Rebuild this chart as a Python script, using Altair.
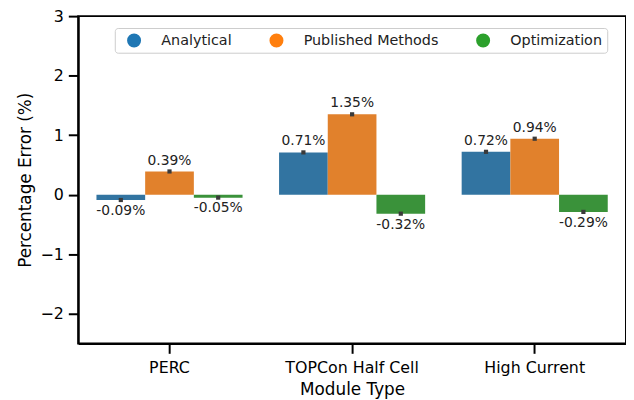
import altair as alt
import pandas as pd

module_types = ["PERC", "TOPCon Half Cell", "High Current"]
methods = ["Analytical", "Published Methods", "Optimization"]
analytical = [-0.09, 0.71, 0.72]
published = [0.39, 1.35, 0.94]
optimization = [-0.05, -0.32, -0.29]

bar_colors = ["#3274a1", "#e1812c", "#3a923a"]
legend_colors = ["#1f77b4", "#ff7f0e", "#2ca02c"]
y_ticks = [-2, -1, 0, 1, 2, 3]

rows = []
for name, vals in zip(methods, [analytical, published, optimization]):
    for m, v in zip(module_types, vals):
        rows.append({"Module Type": m, "Method": name, "Error": v})
df = pd.DataFrame(rows)

FONT = "DejaVu Sans"

base = alt.Chart(df).transform_calculate(
    lbl="replace(format(datum.Error, '.2f'), '\u2212', '-') + '%'"
)

x_enc = alt.X(
    "Module Type:N",
    sort=module_types,
    scale=alt.Scale(paddingInner=0.2, paddingOuter=0.1),
    axis=alt.Axis(
        title="Module Type", labelAngle=0, labelFontSize=16, titleFontSize=17,
        labelFont=FONT, titleFont=FONT, titleFontWeight="normal",
        labelColor="#000", titleColor="#000", domainColor="#000", domainWidth=2,
        tickColor="#000", tickWidth=2, tickSize=10, labelPadding=6, titlePadding=7,
        grid=False,
    ),
)
xoff = alt.XOffset("Method:N", sort=methods, scale=alt.Scale(paddingInner=0, paddingOuter=0))
y_enc = alt.Y(
    "Error:Q",
    scale=alt.Scale(domain=[-2.5, 3], nice=False, zero=False),
    axis=alt.Axis(
        title="Percentage Error (%)", values=y_ticks, format="d",
        labelExpr="replace(datum.label, '-', '\u2212')",
        labelFontSize=16, titleFontSize=17, labelFont=FONT, titleFont=FONT,
        titleFontWeight="normal", labelColor="#000", titleColor="#000",
        domainColor="#000", domainWidth=2, tickColor="#000", tickWidth=2,
        tickSize=10, labelPadding=5, titlePadding=6, grid=False,
    ),
)

bars = base.mark_bar().encode(
    x=x_enc, xOffset=xoff, y=y_enc,
    color=alt.Color("Method:N", sort=methods,
                    scale=alt.Scale(domain=methods, range=bar_colors), legend=None),
)

legend_pts = base.mark_point(filled=True, opacity=0).encode(
    x=x_enc, xOffset=xoff, y=y_enc,
    fill=alt.Fill(
        "Method:N", sort=methods,
        scale=alt.Scale(domain=methods, range=legend_colors),
        legend=alt.Legend(
            orient="none", legendX=37, legendY=12, direction="horizontal",
            title=None, symbolType="circle", symbolSize=200, symbolStrokeWidth=0,
            symbolOpacity=1, symbolOffset=7, labelFontSize=14.5, labelFont=FONT,
            labelColor="#222", labelOffset=20, columnPadding=30, padding=5,
            fillColor="rgba(255,255,255,0.8)", strokeColor="#cccccc", cornerRadius=3,
        ),
    ),
)

err = base.mark_square(size=18, color="#3a3a3a", opacity=1).encode(
    x=x_enc, xOffset=xoff, y=y_enc
)

pos_text = base.transform_filter("datum.Error >= 0").mark_text(
    baseline="bottom", dy=-4, fontSize=14, font=FONT, color="#222"
).encode(x=x_enc, xOffset=xoff, y=y_enc, text="lbl:N")

neg_text = base.transform_filter("datum.Error < 0").mark_text(
    baseline="top", dy=4, fontSize=14, font=FONT, color="#222"
).encode(x=x_enc, xOffset=xoff, y=y_enc, text="lbl:N")

chart = alt.layer(bars, legend_pts, err, pos_text, neg_text).resolve_scale(
    color="independent", fill="independent"
).properties(
    width=554, height=331,
    padding={"left": 71, "top": 6, "right": 0, "bottom": 55},
    autosize=alt.AutoSizeParams(type="none"),
    background="white",
).configure_view(stroke="#000", strokeWidth=2)

chart.save("out.html", embed_options={"renderer": "svg", "actions": False})
